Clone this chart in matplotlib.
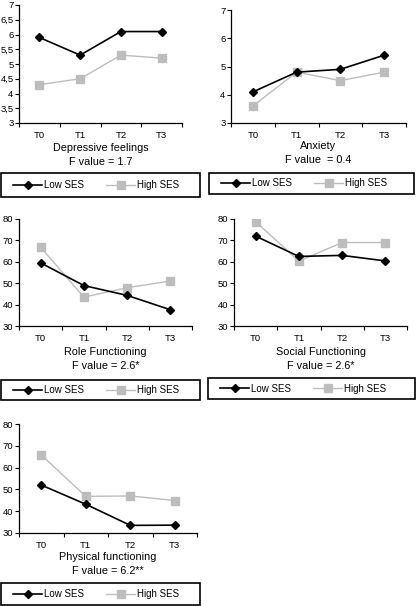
import matplotlib
matplotlib.use('Agg')
import matplotlib.pyplot as plt
from matplotlib.lines import Line2D
from matplotlib.patches import Rectangle
from matplotlib.ticker import FuncFormatter

plt.rcParams['font.family'] = ['Liberation Sans', 'DejaVu Sans']

times = ['T0', 'T1', 'T2', 'T3']

dep_low = [5.9, 5.3, 6.1, 6.1]
dep_high = [4.3, 4.5, 5.3, 5.2]
anx_low = [4.1, 4.8, 4.9, 5.4]
anx_high = [3.6, 4.8, 4.5, 4.8]
role_low = [59.5, 48.9, 44.3, 37.6]
role_high = [66.8, 43.5, 47.9, 51.0]
social_low = [72.0, 62.5, 63.0, 60.4]
social_high = [78.8, 60.3, 69.0, 69.0]
phys_low = [52.0, 43.2, 33.5, 33.6]
phys_high = [65.8, 46.8, 47.0, 44.9]

titles = ['Depressive feelings', 'Anxiety', 'Role Functioning',
          'Social Functioning', 'Physical functioning']
fvalues = ['F value = 1.7', 'F value  = 0.4', 'F value = 2.6*',
           'F value = 2.6*', 'F value = 6.2**']
series_names = ['Low SES', 'High SES']

W, H = 417, 606
GRAY = '#bdbdbd'

fig = plt.figure(figsize=(W / 100, H / 100), dpi=100)


def px_axes(left, right, top, bottom):
    return fig.add_axes([left / W, 1 - bottom / H, (right - left) / W, (bottom - top) / H])


def comma(v, pos):
    return ('%g' % v).replace('.', ',')


# axes box (px), y range, y step, title y, legend box (px)
panels = [
    dict(box=(19, 182, 5, 123), ylim=(3, 7), step=0.5, low=dep_low, high=dep_high,
         ty=148, leg=(1, 200, 173, 197)),
    dict(box=(231, 406, 10, 123), ylim=(3, 7), step=1, low=anx_low, high=anx_high,
         ty=146, leg=(209, 414, 173, 194)),
    dict(box=(19, 192, 219, 326), ylim=(30, 80), step=10, low=role_low, high=role_high,
         ty=352, leg=(1, 200, 380, 400)),
    dict(box=(234, 407, 219, 326), ylim=(30, 80), step=10, low=social_low, high=social_high,
         ty=352, leg=(208, 415, 378, 399)),
    dict(box=(19, 197, 424, 533), ylim=(30, 80), step=10, low=phys_low, high=phys_high,
         ty=557, leg=(1, 200, 583, 605)),
]

for i, p in enumerate(panels):
    l, r, t, b = p['box']
    ax = px_axes(l, r, t, b)
    x = range(len(times))
    ax.plot(x, p['high'], color=GRAY, lw=1.0, marker='s', ms=5.5, mfc=GRAY, mec=GRAY, zorder=2)
    ax.plot(x, p['low'], color='black', lw=1.2, marker='D', ms=4.2, zorder=3)
    ax.set_xlim(-0.5, len(times) - 0.5)
    ax.set_ylim(*p['ylim'])
    lo, hi = p['ylim']
    n = int(round((hi - lo) / p['step']))
    ax.set_yticks([lo + k * p['step'] for k in range(n + 1)])
    ax.yaxis.set_major_formatter(FuncFormatter(comma))
    ax.set_xticks([k - 0.5 for k in range(len(times) + 1)])
    ax.set_xticklabels([])
    ax.set_xticks(list(x), minor=True)
    ax.set_xticklabels(times, minor=True)
    ax.tick_params(axis='x', which='minor', length=0, pad=6, labelsize=6.8)
    ax.tick_params(axis='x', which='major', length=3, width=0.8, direction='out')
    ax.tick_params(axis='y', length=3, width=0.8, pad=1, labelsize=6.8)
    for s in ['top', 'right']:
        ax.spines[s].set_visible(False)
    for s in ['left', 'bottom']:
        ax.spines[s].set_linewidth(0.9)
    ax.patch.set_alpha(0)

    cx = (l + r) / 2 / W
    fig.text(cx, 1 - p['ty'] / H, titles[i], ha='center', va='center', fontsize=7.8)
    fig.text(cx, 1 - (p['ty'] + 14) / H, fvalues[i], ha='center', va='center', fontsize=7.8)

    # legend box
    ll, lr, lt, lb = p['leg']
    fig.patches.append(Rectangle((ll / W, 1 - lb / H), (lr - ll) / W, (lb - lt) / H,
                                 transform=fig.transFigure, fill=False,
                                 edgecolor='black', lw=1.2))
    handles = [Line2D([], [], color='black', lw=1.2, marker='D', ms=4.2),
               Line2D([], [], color=GRAY, lw=1.0, marker='s', ms=5.5, mfc=GRAY, mec=GRAY)]
    fig.legend(handles, series_names, ncol=2, loc='center left',
               bbox_to_anchor=((ll + 12) / W, 1 - (lt + lb) / 2 / H),
               fontsize=7, frameon=False, handlelength=3.0,
               handletextpad=0.15, borderaxespad=0, borderpad=0, columnspacing=2.3)

fig.savefig('out.png', dpi=100)
